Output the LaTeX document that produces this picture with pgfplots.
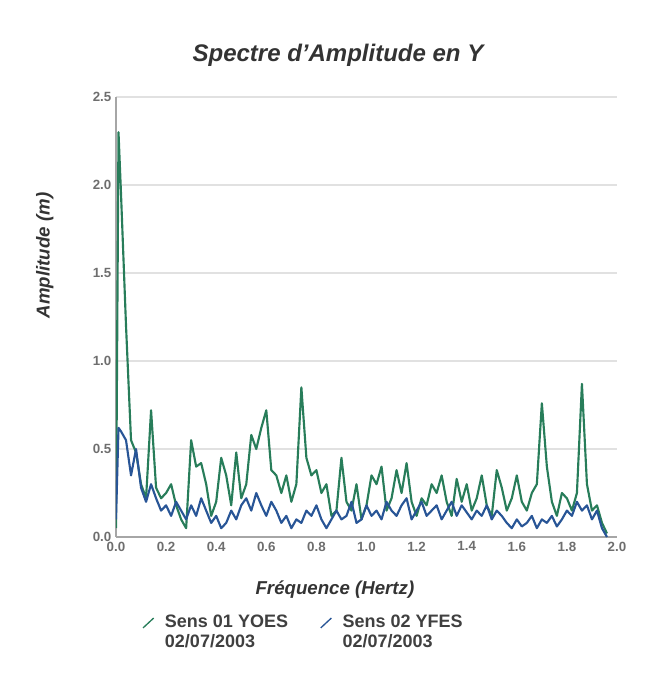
\documentclass[border=0pt]{standalone}
\usepackage{pgfplots}
\pgfplotsset{compat=1.18}
\usepackage{fontspec}
\setmainfont{Liberation Sans}
\definecolor{sgreen}{RGB}{40,125,90}
\definecolor{sblue}{RGB}{40,85,150}
\definecolor{gridc}{RGB}{225,225,225}
\definecolor{tickc}{RGB}{110,110,110}
\begin{document}
\begin{tikzpicture}
\useasboundingbox (-87pt,-107.25pt) rectangle (406.5pt,402.75pt);
\begin{axis}[
  at={(0,0)}, anchor=origin,
  scale only axis, width=375.75pt, height=330pt,
  xmin=0, xmax=2.0, ymin=0, ymax=2.5,
  xtick={0,0.2,...,2.0}, ytick={0,0.5,...,2.5},
  /pgf/number format/assume math mode=true,
  xticklabel style={/pgf/number format/.cd, fixed, fixed zerofill, precision=1},
  yticklabel style={/pgf/number format/.cd, fixed, fixed zerofill, precision=1},
  ticklabel style={font=\fontsize{10}{12}\selectfont\bfseries, text=tickc},
  axis x line*=bottom, axis y line*=left,
  axis line style={draw=gray!70, line width=0.8pt},
  major tick length=0pt,
  ymajorgrids, major grid style={draw=gridc, line width=0.8pt},
  title={\fontsize{18}{20}\selectfont\bfseries\itshape Spectre d'Amplitude en Y},
  every axis title/.style={at={(axis description cs:0.443,1.095)}, anchor=center, text=black!80},
  xlabel={\fontsize{14}{16}\selectfont\bfseries\itshape Fréquence (Hertz)},
  ylabel={\fontsize{14}{16}\selectfont\bfseries\itshape Amplitude (m)},
  every axis x label/.style={at={(axis description cs:0.437,-0.12)}, anchor=center, text=black!80},
  every axis y label/.style={at={(axis description cs:-0.142,0.64)}, rotate=90, anchor=center, text=black!80},
  legend columns=2,
  legend style={at={(axis description cs:0.375,-0.165)}, anchor=north, draw=none, fill=none,
    font=\fontsize{13.5}{15}\selectfont\bfseries, text=black!75,
    cells={align=left}, /tikz/every even column/.append style={column sep=22pt},
    /tikz/every odd column/.append style={column sep=6pt}},
  legend image code/.code={\draw[#1, line width=1pt] (0cm,0.12cm) -- (0.28cm,0.38cm);},
]
\addplot[sgreen, line width=1.6pt, line join=round] coordinates {
(0.00,0.05)(0.01,2.30)(0.02,1.95)(0.04,1.20)(0.06,0.55)(0.08,0.48)(0.10,0.30)(0.12,0.22)(0.14,0.72)(0.16,0.28)
(0.18,0.22)(0.20,0.25)(0.22,0.30)(0.24,0.18)(0.26,0.10)(0.28,0.05)(0.30,0.55)(0.32,0.40)(0.34,0.42)(0.36,0.30)
(0.38,0.12)(0.40,0.20)(0.42,0.45)(0.44,0.35)(0.46,0.18)(0.48,0.48)(0.50,0.22)(0.52,0.30)(0.54,0.58)(0.56,0.50)
(0.58,0.62)(0.60,0.72)(0.62,0.38)(0.64,0.35)(0.66,0.25)(0.68,0.35)(0.70,0.20)(0.72,0.30)(0.74,0.85)(0.76,0.45)
(0.78,0.35)(0.80,0.38)(0.82,0.25)(0.84,0.30)(0.86,0.12)(0.88,0.15)(0.90,0.45)(0.92,0.20)(0.94,0.15)(0.96,0.30)
(0.98,0.10)(1.00,0.18)(1.02,0.35)(1.04,0.30)(1.06,0.40)(1.08,0.15)(1.10,0.22)(1.12,0.38)(1.14,0.25)(1.16,0.42)
(1.18,0.20)(1.20,0.12)(1.22,0.22)(1.24,0.18)(1.26,0.30)(1.28,0.25)(1.30,0.35)(1.32,0.20)(1.34,0.12)(1.36,0.33)
(1.38,0.20)(1.40,0.30)(1.42,0.15)(1.44,0.22)(1.46,0.35)(1.48,0.18)(1.50,0.12)(1.52,0.38)(1.54,0.28)(1.56,0.15)
(1.58,0.22)(1.60,0.35)(1.62,0.20)(1.64,0.15)(1.66,0.25)(1.68,0.30)(1.70,0.76)(1.72,0.40)(1.74,0.20)(1.76,0.12)
(1.78,0.25)(1.80,0.22)(1.82,0.15)(1.84,0.25)(1.86,0.87)(1.88,0.30)(1.90,0.15)(1.92,0.18)(1.94,0.08)(1.96,0.02)
};
\addlegendentry{Sens 01 YOES\\02/07/2003}
\addplot[sblue, line width=1.6pt, line join=round] coordinates {
(0.00,0.10)(0.01,0.62)(0.02,0.60)(0.04,0.55)(0.06,0.35)(0.08,0.50)(0.10,0.28)(0.12,0.20)(0.14,0.30)(0.16,0.22)
(0.18,0.15)(0.20,0.18)(0.22,0.12)(0.24,0.20)(0.26,0.15)(0.28,0.10)(0.30,0.18)(0.32,0.12)(0.34,0.22)(0.36,0.15)
(0.38,0.08)(0.40,0.12)(0.42,0.05)(0.44,0.08)(0.46,0.15)(0.48,0.10)(0.50,0.18)(0.52,0.22)(0.54,0.15)(0.56,0.25)
(0.58,0.18)(0.60,0.12)(0.62,0.20)(0.64,0.15)(0.66,0.08)(0.68,0.12)(0.70,0.05)(0.72,0.10)(0.74,0.08)(0.76,0.15)
(0.78,0.12)(0.80,0.18)(0.82,0.10)(0.84,0.05)(0.86,0.10)(0.88,0.15)(0.90,0.10)(0.92,0.12)(0.94,0.20)(0.96,0.08)
(0.98,0.10)(1.00,0.18)(1.02,0.12)(1.04,0.15)(1.06,0.10)(1.08,0.20)(1.10,0.15)(1.12,0.12)(1.14,0.18)(1.16,0.22)
(1.18,0.10)(1.20,0.15)(1.22,0.20)(1.24,0.12)(1.26,0.15)(1.28,0.18)(1.30,0.10)(1.32,0.15)(1.34,0.20)(1.36,0.12)
(1.38,0.18)(1.40,0.14)(1.42,0.10)(1.44,0.15)(1.46,0.12)(1.48,0.18)(1.50,0.10)(1.52,0.15)(1.54,0.12)(1.56,0.08)
(1.58,0.05)(1.60,0.10)(1.62,0.06)(1.64,0.08)(1.66,0.12)(1.68,0.05)(1.70,0.10)(1.72,0.08)(1.74,0.12)(1.76,0.06)
(1.78,0.10)(1.80,0.15)(1.82,0.12)(1.84,0.20)(1.86,0.15)(1.88,0.18)(1.90,0.10)(1.92,0.15)(1.94,0.05)(1.96,0.00)
};
\addlegendentry{Sens 02 YFES\\02/07/2003}
\end{axis}
\end{tikzpicture}
\end{document}
